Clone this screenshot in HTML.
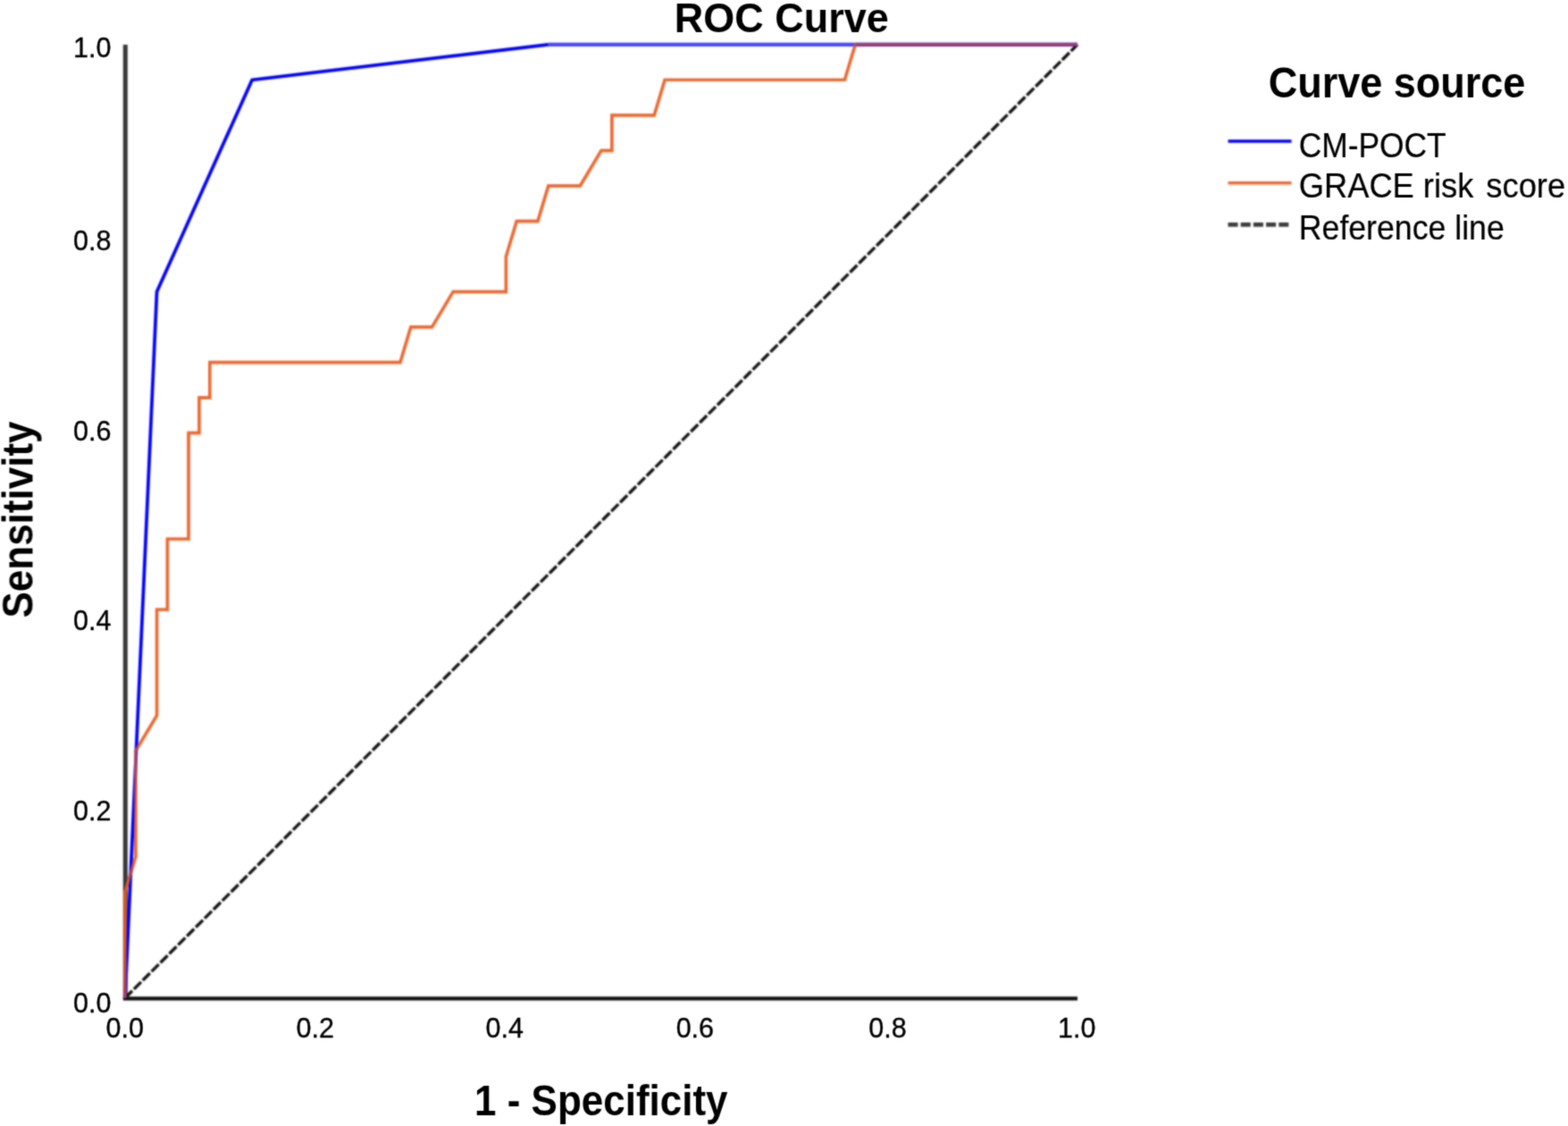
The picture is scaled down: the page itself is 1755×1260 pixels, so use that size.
<!DOCTYPE html>
<html><head><meta charset="utf-8"><title>ROC Curve</title>
<style>
html,body{margin:0;padding:0;background:#fff;}
body{width:1755px;height:1260px;overflow:hidden;}
svg{display:block;}
text{font-family:"Liberation Sans",Arial,sans-serif;fill:#000;stroke-linejoin:round;}
.tk{font-size:30.5px;stroke:#000;stroke-width:0.35px;}
.bt{font-size:45px;font-weight:bold;}
.lg{font-size:36px;stroke:#000;stroke-width:0.2px;}
</style></head>
<body>
<svg width="1755" height="1260" viewBox="0 0 1755 1260">
<defs>
<filter id="fl" x="0" y="0" width="1755" height="1260" filterUnits="userSpaceOnUse" color-interpolation-filters="sRGB"><feConvolveMatrix order="7" kernelMatrix="0.00000 0.00006 0.00041 0.00076 0.00041 0.00006 0.00000 0.00006 0.00141 0.00897 0.01664 0.00897 0.00141 0.00006 0.00041 0.00897 0.05718 0.10600 0.05718 0.00897 0.00041 0.00076 0.01664 0.10600 0.19651 0.10600 0.01664 0.00076 0.00041 0.00897 0.05718 0.10600 0.05718 0.00897 0.00041 0.00006 0.00141 0.00897 0.01664 0.00897 0.00141 0.00006 0.00000 0.00006 0.00041 0.00076 0.00041 0.00006 0.00000" edgeMode="none"/></filter>
<filter id="ft" x="0" y="0" width="1755" height="1260" filterUnits="userSpaceOnUse" color-interpolation-filters="sRGB"><feConvolveMatrix order="5" kernelMatrix="0.00001 0.00042 0.00170 0.00042 0.00001 0.00042 0.02740 0.10988 0.02740 0.00042 0.00170 0.10988 0.44065 0.10988 0.00170 0.00042 0.02740 0.10988 0.02740 0.00042 0.00001 0.00042 0.00170 0.00042 0.00001" edgeMode="none"/></filter>
</defs>
<rect width="1755" height="1260" fill="#fff"/>
<g filter="url(#fl)" fill="none" stroke-linejoin="miter">
<line x1="140.3" y1="49.9" x2="140.3" y2="1117.3" stroke="#383838" stroke-width="5.0"/>
<line x1="137.8" y1="1117.3" x2="1206.0" y2="1117.3" stroke="#111111" stroke-width="4.3"/>
<line x1="140.0" y1="1116.8" x2="1206.0" y2="49.90000000000009" stroke="#111111" stroke-width="3.4" stroke-dasharray="11.3 2.7"/>
<path d="M140.00 1116.80 L140.00 998.26 L151.84 958.74 L151.84 840.20 L175.53 800.68 L175.53 682.14 L187.38 682.14 L187.38 603.11 L211.07 603.11 L211.07 484.56 L222.91 484.56 L222.91 445.05 L234.76 445.05 L234.76 405.53 L447.96 405.53 L459.80 366.02 L483.49 366.02 L507.18 326.50 L566.40 326.50 L566.40 286.99 L578.24 247.47 L601.93 247.47 L613.78 207.96 L649.31 207.96 L673.00 168.44 L684.84 168.44 L684.84 128.93 L732.22 128.93 L744.07 89.41 L945.42 89.41 L957.27 49.90 L1206.00 49.90" stroke="rgb(236,92,32)" stroke-opacity="0.72" stroke-width="3.4"/>
<path d="M613.78 49.90 L957.27 49.90" stroke="#4646ff" stroke-width="4.4"/>
<path d="M957.27 49.90 L1206.00 49.90" stroke="#0000ff" stroke-width="4.4"/>
<path d="M140.00 1116.80 L175.53 326.50 L282.13 89.41 L613.78 49.90" stroke="#0000ff" stroke-width="3.7"/>
<path d="M140.00 1116.80 L140.00 998.26 L151.84 958.74 L151.84 840.20 L175.53 800.68 L175.53 682.14 L187.38 682.14 L187.38 603.11 L211.07 603.11 L211.07 484.56 L222.91 484.56 L222.91 445.05 L234.76 445.05 L234.76 405.53 L447.96 405.53 L459.80 366.02 L483.49 366.02 L507.18 326.50 L566.40 326.50 L566.40 286.99 L578.24 247.47 L601.93 247.47 L613.78 207.96 L649.31 207.96 L673.00 168.44 L684.84 168.44 L684.84 128.93 L732.22 128.93 L744.07 89.41 L945.42 89.41 L957.27 49.90 L1206.00 49.90" stroke="rgb(236,92,32)" stroke-opacity="0.73" stroke-width="3.4"/>
<line x1="1374.5" y1="158.0" x2="1445.5" y2="158.0" stroke="#0000ff" stroke-width="3.7"/>
<line x1="1374.5" y1="204.8" x2="1445.5" y2="204.8" stroke="rgb(236,92,32)" stroke-opacity="0.9" stroke-width="3.4"/>
<line x1="1374.5" y1="251.4" x2="1445.5" y2="251.4" stroke="#3c3c3c" stroke-width="4.6" stroke-dasharray="11 3.2"/>
</g>
<g filter="url(#ft)">
<text class="bt" transform="translate(874.80 36.00) scale(1 1.045)" text-anchor="middle">ROC Curve</text>
<g class="tk">
<text transform="translate(124.50 1132.50) scale(1 1.03)" text-anchor="end">0.0</text>
<text transform="translate(124.50 917.57) scale(1 1.03)" text-anchor="end">0.2</text>
<text transform="translate(124.50 704.54) scale(1 1.03)" text-anchor="end">0.4</text>
<text transform="translate(124.50 492.66) scale(1 1.03)" text-anchor="end">0.6</text>
<text transform="translate(124.50 279.58) scale(1 1.03)" text-anchor="end">0.8</text>
<text transform="translate(124.50 63.50) scale(1 1.03)" text-anchor="end">1.0</text>
<text transform="translate(139.75 1161.00) scale(1 1.03)" text-anchor="middle">0.0</text>
<text transform="translate(352.65 1161.00) scale(1 1.03)" text-anchor="middle">0.2</text>
<text transform="translate(564.80 1161.00) scale(1 1.03)" text-anchor="middle">0.4</text>
<text transform="translate(777.85 1161.00) scale(1 1.03)" text-anchor="middle">0.6</text>
<text transform="translate(993.40 1161.00) scale(1 1.03)" text-anchor="middle">0.8</text>
<text transform="translate(1205.15 1161.00) scale(1 1.03)" text-anchor="middle">1.0</text>
</g>
<text class="bt" transform="translate(672.80 1248.00) scale(0.977 1.06)" text-anchor="middle">1 - Specificity</text>
<text class="bt" transform="translate(36.40 581.50) rotate(-90) scale(0.978 1.07)" text-anchor="middle">Sensitivity</text>
<text class="bt" transform="translate(1563.50 108.70) scale(1 1.05)" text-anchor="middle">Curve source</text>
<g class="lg">
<text transform="translate(1453.80 175.50) scale(0.982 1.06)">CM-POCT</text>
<text transform="translate(1453.80 221.00) scale(1.008 1.06)">GRACE risk <tspan dx="4">score</tspan></text>
<text transform="translate(1453.80 267.60) scale(0.991 1.06)">Reference line</text>
</g>
</g>
</svg>
</body></html>
